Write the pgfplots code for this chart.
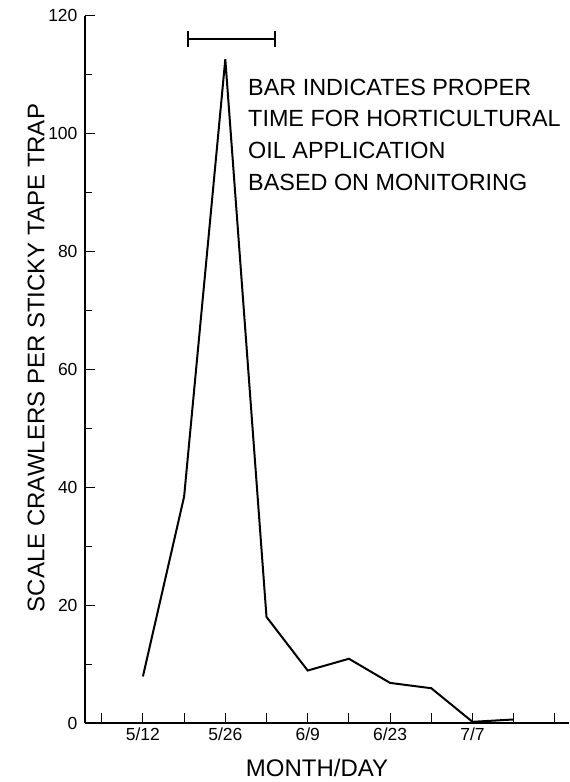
\documentclass[border=0pt]{standalone}
\usepackage{fontspec}
\setmainfont{Liberation Sans}
\usepackage{pgfplots}
\pgfplotsset{compat=1.18}
\begin{document}
\begin{tikzpicture}[x=1pt,y=1pt]
\useasboundingbox (0,0) rectangle (570,-782);
\begin{axis}[
  at={(85pt,-723pt)}, anchor=south west,
  scale only axis, width=484pt, height=707.4pt,
  xmin=2.16, xmax=84.4, ymin=0, ymax=120,
  axis lines=left, axis line style={-, line width=1.4pt},
  tick align=inside,
  major tick length=10pt, minor tick length=7pt,
  tick style={line width=0.9pt, black},
  xtick={5,12,19,26,33,40,47,54,61,68,75,82},
  xticklabels={,5/12,,5/26,,6/9,,6/23,,7/7,,},
  ytick={0,20,40,60,80,100,120},
  minor ytick={10,30,50,70,90,110},
  /pgf/number format/assume math mode=true,
  tick label style={font=\fontsize{17.5}{20}\selectfont},
  yticklabel style={xshift=-4pt},
  xticklabel style={yshift=-1pt},
  clip=false,
]
\addplot[black, line width=2pt, line join=miter] coordinates {
  (12,7.9) (19,38.4) (26,112.6) (33,18.0) (40,8.9) (47,10.9) (54,6.8) (61,5.9) (68,0.2) (75,0.6)
};
\addplot[black, line width=1.6pt, mark=|, mark size=8.3pt, mark options={line width=1.6pt}] coordinates {
  (19.66,116) (34.44,116)
};
\end{axis}
\begin{scope}[font=\fontsize{23.4}{31.7}\selectfont]
\node[anchor=base west, inner sep=0] at (248,-95) {BAR INDICATES PROPER};
\node[anchor=base west, inner sep=0] at (248,-126.7) {TIME FOR HORTICULTURAL};
\node[anchor=base west, inner sep=0] at (248,-158.4) {OIL APPLICATION};
\node[anchor=base west, inner sep=0] at (248,-190.1) {BASED ON MONITORING};
\end{scope}
\node[font=\fontsize{24}{28}\selectfont, inner sep=0] at (317,-768) {MONTH/DAY};
\node[font=\fontsize{24}{28}\selectfont, inner sep=0, rotate=90] at (36,-358) {SCALE CRAWLERS PER STICKY TAPE TRAP};
\end{tikzpicture}
\end{document}
